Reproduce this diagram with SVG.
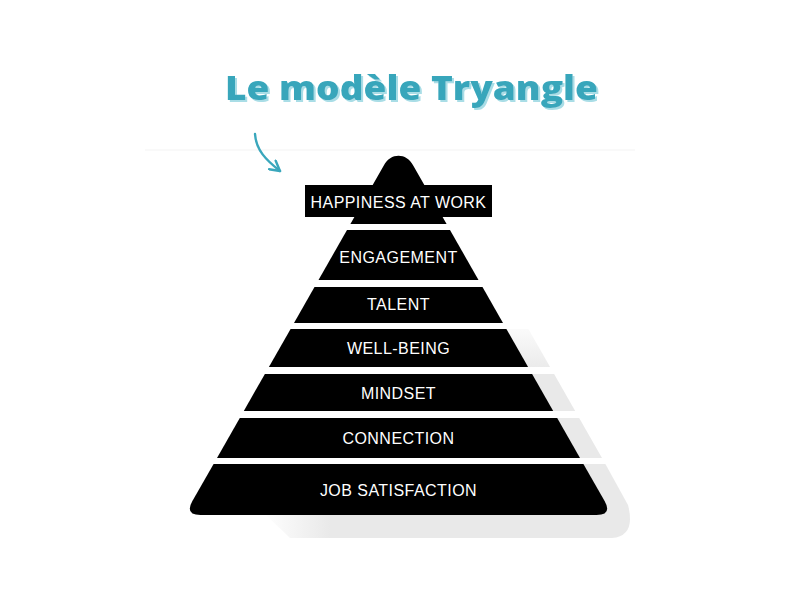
<svg xmlns="http://www.w3.org/2000/svg" width="800" height="600" viewBox="0 0 800 600">
  <defs>
    <linearGradient id="fadeTop" gradientUnits="userSpaceOnUse" x1="0" y1="318" x2="0" y2="372">
      <stop offset="0" stop-color="#e9e9e9" stop-opacity="0"/>
      <stop offset="1" stop-color="#e9e9e9" stop-opacity="1"/>
    </linearGradient>
    <linearGradient id="fadeLeft" gradientUnits="userSpaceOnUse" x1="262" y1="0" x2="330" y2="0">
      <stop offset="0" stop-color="#e9e9e9" stop-opacity="0"/>
      <stop offset="1" stop-color="#e9e9e9" stop-opacity="1"/>
    </linearGradient>
    <filter id="titleShadow" x="-5%" y="-20%" width="110%" height="140%">
      <feFlood flood-color="#a9dde6"/>
      <feComposite in2="SourceAlpha" operator="in"/>
      <feOffset dx="2" dy="2" result="sh"/>
      <feMerge>
        <feMergeNode in="sh"/>
        <feMergeNode in="SourceGraphic"/>
      </feMerge>
    </filter>
    <marker id="arrowOpen" viewBox="0 0 12 12" refX="10" refY="6" markerWidth="13" markerHeight="13" markerUnits="userSpaceOnUse" orient="auto">
      <path d="M1,1 L10,6 L1,11" fill="none" stroke="#3aa7bc" stroke-width="2.2" stroke-linecap="round" stroke-linejoin="round"/>
    </marker>
  </defs>
  <style>
    .band { fill: #000000; }
    .shadow { fill: url(#fadeTop); }
    .label { font-family: "Liberation Sans", Arial, sans-serif; font-size: 16px; fill: #ffffff; text-anchor: middle; letter-spacing: 0.45px; }
    .title { font-family: "Open Sans", "Liberation Sans", sans-serif; font-weight: 800; font-size: 33px; text-anchor: middle; fill: #37a6bb; }
  </style>

  <rect width="800" height="600" fill="#ffffff"/>
  <line x1="145" y1="150" x2="635" y2="150" stroke="#f3f3f3" stroke-width="1"/>

  <!-- Title -->
  <g id="title">
    <text class="title" x="411.5" y="100" textLength="373" lengthAdjust="spacingAndGlyphs" filter="url(#titleShadow)">Le modèle Tryangle</text>
  </g>

  <!-- Shadow -->
  <g id="shadow">
    <polygon class="shadow" points="312.6,329 528.4,329 550.1,367 290.9,367"/>
    <polygon fill="#e9e9e9" points="286.9,374 554.1,374 575.2,411 265.8,411"/>
    <polygon fill="#e9e9e9" points="261.8,418 579.2,418 602,458 239,458"/>
    <path fill="url(#fadeLeft)" d="M262,464 L605.4,464 L628,505 Q636,536 612,538 L290,538 L266,515 Z"/>
  </g>

  <!-- Pyramid levels -->
  <g id="happiness-at-work">
    <path class="band" d="M350.4,224 L383.8,165.5 C390.5,152.5 406.5,152.5 413.2,165.5 L446.6,224 Z"/>
    <rect class="band" x="305" y="185" width="187" height="32"/>
    <text class="label" x="398.5" y="207.5">HAPPINESS AT WORK</text>
  </g>
  <g id="engagement">
    <polygon class="band" points="347,230 450,230 478.5,280 318.5,280"/>
    <text class="label" x="398.5" y="263">ENGAGEMENT</text>
  </g>
  <g id="talent">
    <polygon class="band" points="314.5,287 482.5,287 503,323 294,323"/>
    <text class="label" x="398.5" y="310">TALENT</text>
  </g>
  <g id="well-being">
    <polygon class="band" points="290.6,329 506.4,329 528.1,367 268.9,367"/>
    <text class="label" x="398.5" y="353.5">WELL-BEING</text>
  </g>
  <g id="mindset">
    <polygon class="band" points="264.9,374 532.1,374 553.2,411 243.8,411"/>
    <text class="label" x="398.5" y="399">MINDSET</text>
  </g>
  <g id="connection">
    <polygon class="band" points="239.8,418 557.2,418 580,458 217,458"/>
    <text class="label" x="398.5" y="444">CONNECTION</text>
  </g>
  <g id="job-satisfaction">
    <path class="band" d="M213.6,464 L583.4,464 L604.6,501.1 Q612.5,515 596.5,515 L200.5,515 Q184.5,515 192.4,501.1 Z"/>
    <text class="label" x="398.5" y="495.5">JOB SATISFACTION</text>
  </g>

  <!-- Connectors -->
  <g id="connectors">
    <path d="M255,134 C256,150 266,160 280,171" fill="none" stroke="#3aa7bc" stroke-width="2.4" stroke-linecap="round" marker-end="url(#arrowOpen)"/>
  </g>
</svg>
